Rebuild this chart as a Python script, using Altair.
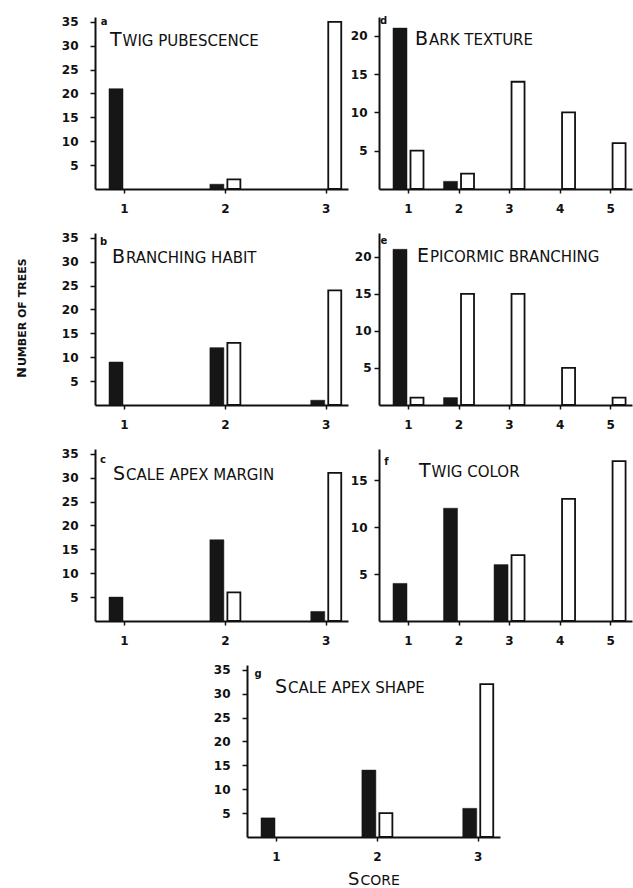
import altair as alt
import pandas as pd

# ---------------- data ----------------
scores3 = [1, 2, 3]
scores5 = [1, 2, 3, 4, 5]

twig_pub_dark = [21, 1, 0]
twig_pub_white = [0, 2, 35]
branch_dark = [9, 12, 1]
branch_white = [0, 13, 24]
margin_dark = [5, 17, 2]
margin_white = [0, 6, 31]
bark_dark = [21, 1, 0, 0, 0]
bark_white = [5, 2, 14, 10, 6]
epi_dark = [21, 1, 0, 0, 0]
epi_white = [1, 15, 15, 5, 1]
color_dark = [4, 12, 6, 0, 0]
color_white = [0, 0, 7, 13, 17]
shape_dark = [4, 14, 6]
shape_white = [0, 5, 32]

ticks_left = [5, 10, 15, 20, 25, 30, 35]
ticks_20 = [5, 10, 15, 20]
ticks_15 = [5, 10, 15]

titles = {
    "a": "Twig pubescence",
    "b": "Branching habit",
    "c": "Scale apex margin",
    "d": "Bark texture",
    "e": "Epicormic branching",
    "f": "Twig color",
    "g": "Scale apex shape",
}
y_title = "Number of trees"
x_title = "Score"

# ---------------- style ----------------
FONT = "DejaVu Sans"
INK = "#111111"
W, H = 253, 172
ADV = {"T": 0.611, "B": 0.686, "E": 0.632, "S": 0.635, "N": 0.837}


def text_layer(txt, x, y, size, weight="normal", angle=0, align="left",
               baseline="alphabetic"):
    return alt.Chart(pd.DataFrame({"t": [txt]})).mark_text(
        font=FONT, fontSize=size, fontWeight=weight, angle=angle,
        align=align, baseline=baseline, color=INK
    ).encode(x=alt.value(x), y=alt.value(y), text="t:N")


def smallcaps(txt, x, y, big, small, weight="normal", angle=0):
    first = txt[0].upper()
    rest = txt[1:].upper()
    adv = ADV.get(first, 0.65) * big + 1
    if angle == 270:
        return [text_layer(first, x, y, big, weight, angle),
                text_layer(rest, x, y - adv, small, weight, angle)]
    return [text_layer(first, x, y, big, weight),
            text_layer(rest, x + adv, y, small, weight)]


def panel(letter, scores, dark, white, xdom, ymax, yvals, ypad,
          title_pos, letter_pos, axis_x=0, extra=None):
    df = pd.DataFrame({
        "score": scores + scores,
        "group": ["dark"] * len(scores) + ["white"] * len(scores),
        "count": dark + white,
    })
    if axis_x:
        xscale = alt.Scale(domain=xdom, nice=False, zero=False,
                           range=[axis_x, axis_x + W])
    else:
        xscale = alt.Scale(domain=xdom, nice=False, zero=False)
    yscale = alt.Scale(domain=[0, ymax], nice=False)
    xenc = alt.X("score:Q", scale=xscale, title=None,
                 axis=alt.Axis(values=scores, format="d", tickSize=4,
                               labelPadding=10, labelFlush=False))
    yaxis_kw = dict(values=yvals, format="d", tickSize=5, labelPadding=ypad)
    if axis_x:
        yaxis_kw["offset"] = -axis_x
    yenc = alt.Y("count:Q", scale=yscale, title=None, axis=alt.Axis(**yaxis_kw))

    base = alt.Chart(df).transform_filter("datum.count > 0")
    dark_l = base.transform_filter("datum.group == 'dark'").mark_bar(
        size=14, xOffset=-8, fill="#161616", stroke="#161616", strokeWidth=0.5
    ).encode(x=xenc, y=yenc)
    white_l = base.transform_filter("datum.group == 'white'").mark_bar(
        size=13, xOffset=9, fill="white", stroke=INK, strokeWidth=1.8
    ).encode(x=xenc, y=yenc)

    layers = [dark_l, white_l]
    layers.append(text_layer(letter, axis_x + letter_pos[0], letter_pos[1], 10,
                             "bold", align="center", baseline="middle"))
    layers += smallcaps(titles[letter], axis_x + title_pos[0], title_pos[1], 19, 15)
    if extra:
        layers += extra
    return alt.layer(*layers).properties(width=W, height=H)


L3 = [0.762, 3.171]
L5 = [0.525, 5.335]

pa = panel("a", scores3, twig_pub_dark, twig_pub_white, L3, 36, ticks_left, 12,
           (15, 29), (9, 5))
pd_ = panel("d", scores5, bark_dark, bark_white, L5, 22.45, ticks_20, 7,
            (36, 28), (4.5, 3.5))
pb = panel("b", scores3, branch_dark, branch_white, L3, 36, ticks_left, 12,
           (17, 30), (8.5, 9),
           extra=smallcaps(y_title, -69.5, 145, 13, 11, "bold", angle=270))
pe = panel("e", scores5, epi_dark, epi_white, L5, 23.2, ticks_20, 3,
           (38, 29), (5, 8))
pc = panel("c", scores3, margin_dark, margin_white, L3, 36, ticks_left, 12,
           (18, 31), (8, 11))
pf = panel("f", scores5, color_dark, color_white, L5, 18.3, ticks_15, 7,
           (40, 28), (7.5, 13))
pg = panel("g", scores3, shape_dark, shape_white, L3, 36, ticks_left, 12,
           (28, 28), (11, 9), axis_x=152,
           extra=smallcaps(x_title, 253, 220, 18, 14))

chart = alt.concat(
    pa, pd_, pb, pe, pc, pf, pg,
    columns=2, spacing={"row": 44, "column": 31}, bounds="flush", align="all"
).properties(
    padding={"left": 15, "top": 15, "right": 1, "bottom": 0},
    background="white",
).configure_view(stroke=None).configure_axis(
    grid=False, domainColor=INK, domainWidth=2, tickColor=INK, tickWidth=1.5,
    labelFont=FONT, labelFontSize=12, labelFontWeight="bold", labelColor=INK,
)

chart.save("out.html", embed_options={"renderer": "svg", "actions": False})
